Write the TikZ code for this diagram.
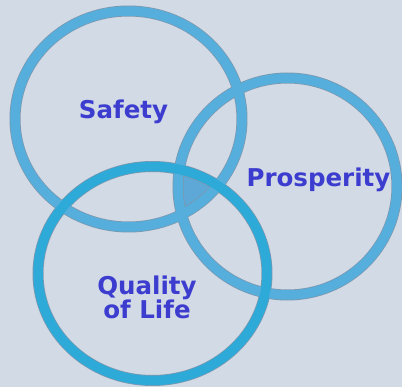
\documentclass[tikz,border=0pt]{standalone}
\usepackage{fontspec}
\newfontfamily\labfont{DejaVu Sans}
\newcommand\mylabsetup{\labfont\bfseries\fontsize{24.5}{24}\selectfont\lineskiplimit=-30pt\relax\lineskip=0pt\relax}
\definecolor{bg}{HTML}{D2DAE6}
\definecolor{ringA}{HTML}{55AEDC}
\definecolor{ringQ}{HTML}{2EAAD8}
\definecolor{ringedge}{HTML}{7C98AE}
\definecolor{core}{HTML}{5EA8D8}
\definecolor{txt}{HTML}{3C3DCF}
\tikzset{
  edge/.style={draw=ringedge, line width=11pt},
  ringS/.style={draw=ringA, line width=9.5pt},
  ringQQ/.style={draw=ringQ, line width=9.5pt},
  lab/.style={text=txt, font=\mylabsetup, align=center, inner sep=0pt}
}
\begin{document}
\begin{tikzpicture}[x=1pt,y=-1pt]
\fill[bg] (0,0) rectangle (402,387);
\useasboundingbox (0,0) rectangle (402,387);
\coordinate (cS) at (128.5,119);
\coordinate (cP) at (287.5,186.5);
\coordinate (cQ) at (152.5,273.5);
% triple intersection
\begin{scope}
  \clip (cS) ellipse [x radius=113.5pt, y radius=108pt];
  \clip (cP) ellipse [x radius=109.5pt, y radius=108.5pt];
  \fill[core] (cQ) ellipse [x radius=114.5pt, y radius=107pt];
\end{scope}
% outlines
\path[edge] (cS) ellipse [x radius=113.5pt, y radius=108pt];
\path[edge] (cP) ellipse [x radius=109.5pt, y radius=108.5pt];
\path[edge] (cQ) ellipse [x radius=114.5pt, y radius=107pt];
% rings
\path[ringS] (cS) ellipse [x radius=113.5pt, y radius=108pt];
\path[ringS] (cP) ellipse [x radius=109.5pt, y radius=108.5pt];
\path[ringQQ] (cQ) ellipse [x radius=114.5pt, y radius=107pt];
% labels
\node[lab, anchor=base] (safety) at (123.5,119) {Safety};
\node[lab, anchor=base] (prosp) at (318.5,187) {Prosperity};
\node[lab, anchor=base] (qual) at (147,319) {Quality\\of Life};
\end{tikzpicture}
\end{document}
